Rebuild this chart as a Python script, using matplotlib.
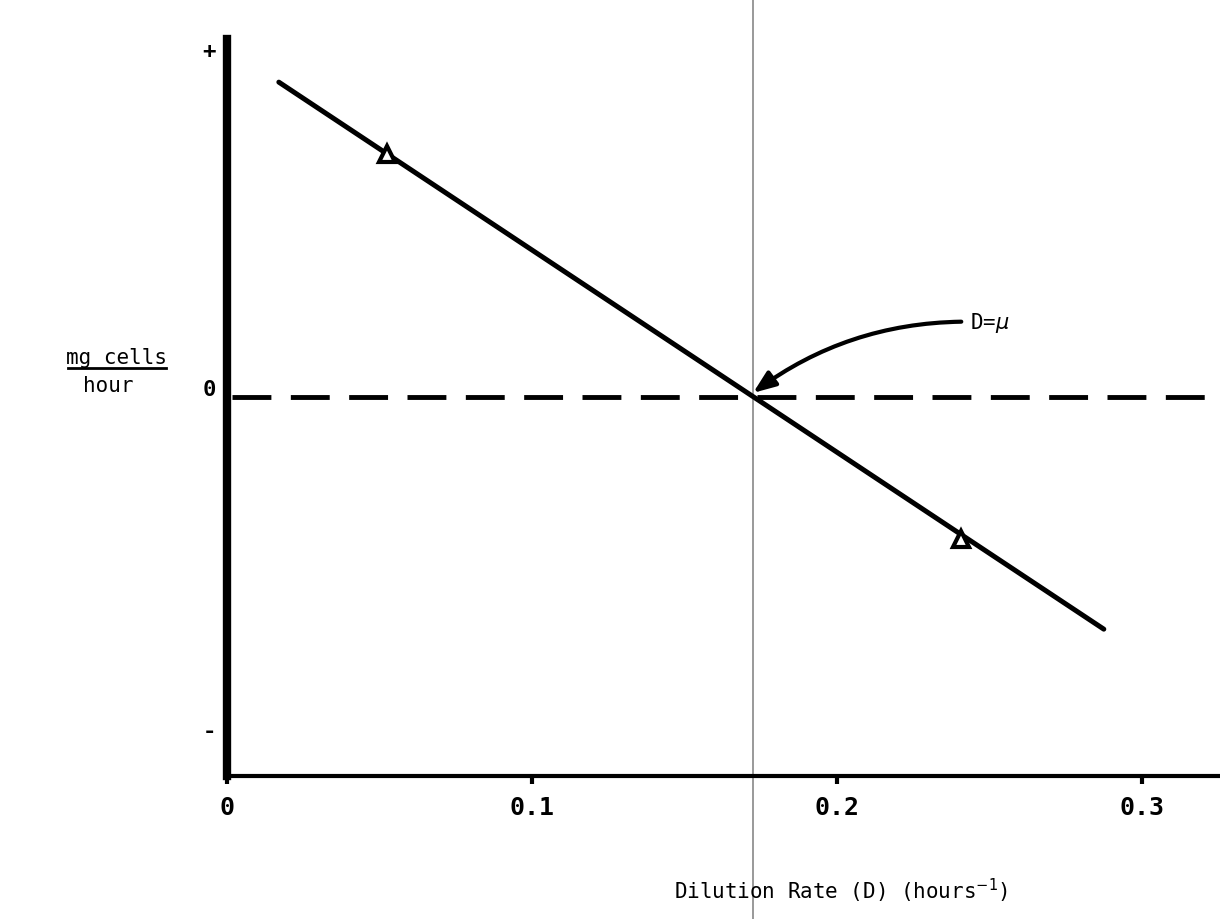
import matplotlib
matplotlib.use("Agg")
import matplotlib.pyplot as plt
import matplotlib.transforms as mtransforms

# ── Data ─────────────────────────────────────────────────────────────────────
D_line = [0.017, 0.2875]          # dilution rate at line ends (h^-1)
rate_line = [0.905, -0.667]       # net cell production (arbitrary units)
D_points = [0.0525, 0.2407]       # triangle markers
rate_points = [0.699, -0.408]
D_mu = 0.1725                     # D = mu crossing

x_ticks = [0, 0.1, 0.2, 0.3]
x_tick_labels = ["0", "0.1", "0.2", "0.3"]
y_ticks = [1.0, 0.028, -0.954]
y_tick_labels = ["+", "0", "-"]

FONT = "DejaVu Sans Mono"

fig = plt.figure(figsize=(12.2, 9.2), dpi=100)
fig.patch.set_facecolor("white")
ax = fig.add_axes([227 / 1220, (920 - 777) / 920, (1220 - 227) / 1220, (777 - 40) / 920])
ax.set_xlim(0, 0.3256)
ax.set_ylim(-1.089, 1.029)

# axes look like an old typewritten figure
ax.spines[["top", "right"]].set_visible(False)
ax.spines["left"].set_linewidth(6)
ax.spines["bottom"].set_linewidth(3)

# main line + markers
ax.plot(D_line, rate_line, color="black", lw=3.6, solid_capstyle="round", zorder=3)
ax.plot(D_points, rate_points, linestyle="none", marker="^", ms=11,
        mfc="white", mec="black", mew=3, zorder=4)

# zero line
ax.axhline(0, xmin=0.005, xmax=1, color="black", lw=3.5,
           linestyle=(0, (8, 4)), zorder=2)

# thin grey vertical through D = mu, spans whole page
trans = mtransforms.blended_transform_factory(ax.transData, fig.transFigure)
ax.plot([D_mu, D_mu], [0, 1], transform=trans, color="#888888", lw=1.2,
        clip_on=False, zorder=1)

# ticks
ax.set_xticks(x_ticks)
ax.set_xticklabels(x_tick_labels, fontfamily=FONT, fontsize=18, fontweight="bold")
ax.tick_params(axis="x", direction="out", length=6, width=3, pad=8)
ax.set_yticks(y_ticks)
ax.set_yticklabels(y_tick_labels, fontfamily=FONT, fontsize=16, fontweight="bold")
ax.tick_params(axis="y", length=0, pad=8)

# axis labels
ax.set_xlabel("Dilution Rate (D) (hours$^{-1}$)", fontfamily=FONT, fontsize=15)
ax.xaxis.set_label_coords(0.618, -0.135)

fig.text(116 / 1220, 1 - 358 / 920, "mg cells", fontfamily=FONT, fontsize=15,
         ha="center", va="center")
fig.add_artist(plt.Line2D([68 / 1220, 166 / 1220], [1 - 369 / 920] * 2,
                          color="black", lw=2, transform=fig.transFigure))
fig.text(108 / 1220, 1 - 386 / 920, "hour", fontfamily=FONT, fontsize=15,
         ha="center", va="center")

# D = mu annotation
ax.annotate("D=$\\mu$", xy=(D_mu, 0.012), xytext=(0.2435, 0.215),
            fontfamily=FONT, fontsize=15, ha="left", va="center",
            arrowprops=dict(arrowstyle="-|>,head_length=0.9,head_width=0.35",
                            color="black", lw=3,
                            connectionstyle="arc3,rad=0.18",
                            shrinkA=4, shrinkB=0))

fig.savefig("out.png", dpi=100, facecolor="white")
